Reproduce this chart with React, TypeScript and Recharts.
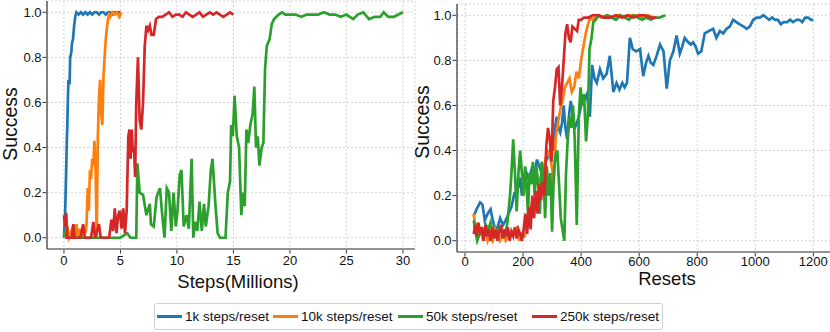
import { LineChart, Line, XAxis, YAxis, CartesianGrid } from "recharts";

const BLUE = "#1f77b4";
const ORANGE = "#ff7f0e";
const GREEN = "#2ca02c";
const RED = "#d62728";

const seriesNames = ["1k steps/reset", "10k steps/reset", "50k steps/reset", "250k steps/reset"];
const seriesColors = [BLUE, ORANGE, GREEN, RED];

// left panel: success vs steps (millions)
const steps1k: [number, number][] = [
  [0, 0.0], [0.1, 0.1], [0.2, 0.3], [0.25, 0.42], [0.3, 0.5], [0.35, 0.62], [0.4, 0.7], [0.5, 0.68],
  [0.55, 0.8], [0.65, 0.82], [0.7, 0.86], [0.8, 0.88], [0.9, 0.94], [1.0, 0.98], [1.1, 1.0], [1.3, 0.99],
  [1.5, 1.0], [1.7, 0.99], [1.9, 1.0], [2.1, 0.99], [2.3, 1.0], [2.5, 0.99], [2.7, 1.0], [2.9, 1.0],
  [3.1, 0.99], [3.3, 1.0], [3.5, 1.0], [3.7, 0.99], [3.9, 1.0], [4.1, 1.0], [4.3, 0.99], [4.5, 1.0],
  [4.7, 1.0], [4.9, 1.0], [5.0, 1.0],
];
const steps10k: [number, number][] = [
  [0, 0.03], [0.15, 0.0], [0.3, 0.05], [0.45, 0.0], [0.6, 0.02], [0.8, 0.05], [0.95, 0.0], [1.1, 0.06],
  [1.25, 0.0], [1.4, 0.04], [1.6, 0.0], [1.75, 0.05], [1.9, 0.02], [2.0, 0.06], [2.1, 0.22], [2.2, 0.12],
  [2.3, 0.3], [2.4, 0.26], [2.5, 0.35], [2.6, 0.32], [2.7, 0.43], [2.8, 0.3], [2.9, 0.0], [3.0, 0.45],
  [3.1, 0.62], [3.2, 0.7], [3.3, 0.55], [3.4, 0.5], [3.5, 0.72], [3.6, 0.8], [3.7, 0.88], [3.8, 0.93],
  [3.9, 0.97], [4.0, 0.99], [4.1, 0.98], [4.3, 1.0], [4.5, 0.99], [4.7, 1.0], [4.9, 0.98], [5.1, 1.0],
];
const steps50k: [number, number][] = [
  [0, 0.03], [0.2, 0.0], [0.5, 0.0], [1, 0.0], [1.5, 0.0], [2, 0.0], [2.5, 0.0], [3, 0.0], [3.5, 0.0],
  [4, 0.0], [4.5, 0.0], [5, 0.0], [5.3, 0.01], [5.6, 0.02], [5.9, 0.0], [6.2, 0.0], [6.4, 0.0],
  [6.5, 0.33], [6.7, 0.2], [7.0, 0.19], [7.3, 0.1], [7.6, 0.15], [7.7, 0.06], [7.95, 0.05], [8.2, 0.18],
  [8.5, 0.22], [8.7, 0.1], [8.9, 0.0], [9.1, 0.22], [9.3, 0.2], [9.5, 0.03], [9.7, 0.2], [9.9, 0.05],
  [10.05, 0.12], [10.25, 0.28], [10.4, 0.3], [10.6, 0.05], [10.85, 0.1], [11.05, 0.04], [11.3, 0.35],
  [11.45, 0.0], [11.6, 0.07], [11.8, 0.03], [12.0, 0.16], [12.2, 0.03], [12.4, 0.15], [12.55, 0.05],
  [12.8, 0.14], [13.0, 0.3], [13.15, 0.35], [13.4, 0.15], [13.6, 0.02], [13.8, 0.0], [14.3, 0.0],
  [14.5, 0.2], [14.7, 0.25], [14.8, 0.5], [14.95, 0.45], [15.1, 0.63], [15.3, 0.45], [15.5, 0.4],
  [15.7, 0.1], [15.85, 0.2], [16.0, 0.14], [16.15, 0.48], [16.3, 0.42], [16.5, 0.5], [16.7, 0.55],
  [16.85, 0.67], [17.0, 0.4], [17.15, 0.45], [17.3, 0.32], [17.5, 0.4], [17.65, 0.42], [17.8, 0.75],
  [17.95, 0.85], [18.2, 0.88], [18.4, 0.95], [18.6, 0.97], [18.8, 0.98], [19.0, 0.99], [19.3, 1.0],
  [19.6, 0.99], [20.0, 0.99], [20.5, 0.99], [21.0, 0.98], [21.5, 0.99], [22.0, 0.99], [22.5, 0.99],
  [23.0, 1.0], [23.5, 0.99], [24.0, 0.99], [24.5, 0.98], [25.0, 0.99], [25.6, 0.97], [26.0, 0.99],
  [26.5, 1.0], [27.0, 0.97], [27.5, 0.98], [28.0, 0.98], [28.3, 1.0], [28.7, 0.98], [29.2, 0.98],
  [29.6, 0.99], [30.0, 1.0],
];
const steps250k: [number, number][] = [
  [0, 0.1], [0.1, 0.05], [0.2, 0.11], [0.3, 0.0], [0.5, 0.0], [0.7, 0.0], [0.83, 0.06], [0.95, 0.0],
  [1.2, 0.0], [1.45, 0.0], [1.7, 0.06], [1.85, 0.0], [2.1, 0.0], [2.4, 0.0], [2.6, 0.07], [2.75, 0.0],
  [3.1, 0.06], [3.25, 0.0], [3.6, 0.0], [4.0, 0.0], [4.2, 0.08], [4.35, 0.03], [4.5, 0.13], [4.65, 0.02],
  [4.8, 0.1], [4.95, 0.12], [5.1, 0.04], [5.25, 0.13], [5.4, 0.02], [5.55, 0.12], [5.7, 0.45],
  [5.8, 0.48], [5.9, 0.35], [6.0, 0.48], [6.1, 0.38], [6.2, 0.4], [6.3, 0.27], [6.4, 0.6], [6.55, 0.8],
  [6.7, 0.52], [6.85, 0.48], [7.0, 0.6], [7.15, 0.85], [7.3, 0.94], [7.45, 0.92], [7.6, 0.94],
  [7.75, 0.9], [7.95, 0.9], [8.15, 0.97], [8.4, 0.98], [8.7, 0.98], [9.0, 0.99], [9.3, 1.0], [9.6, 0.98],
  [9.9, 0.99], [10.2, 0.99], [10.5, 0.98], [10.8, 1.0], [11.1, 0.99], [11.4, 0.98], [11.7, 0.99],
  [12.0, 1.0], [12.3, 0.98], [12.6, 0.99], [12.9, 1.0], [13.2, 0.99], [13.5, 1.0], [13.8, 0.99],
  [14.1, 0.98], [14.4, 0.99], [14.7, 1.0], [15.0, 0.99],
];

// right panel: success vs resets
const resets1k: [number, number][] = [
  [30, 0.11], [40, 0.14], [52, 0.17], [60, 0.16], [68, 0.09], [78, 0.12], [88, 0.14], [96, 0.09],
  [104, 0.05], [112, 0.06], [121, 0.1], [131, 0.07], [140, 0.09], [150, 0.12], [160, 0.15], [170, 0.21],
  [180, 0.22], [190, 0.28], [196, 0.2], [204, 0.25], [212, 0.3], [220, 0.27], [230, 0.32], [240, 0.3],
  [248, 0.36], [256, 0.33], [264, 0.3], [272, 0.33], [281, 0.36], [290, 0.38], [298, 0.42], [304, 0.4],
  [310, 0.5], [316, 0.55], [322, 0.5], [328, 0.48], [334, 0.52], [340, 0.6], [346, 0.5], [352, 0.45],
  [358, 0.55], [364, 0.62], [370, 0.58], [378, 0.5], [385, 0.52], [392, 0.55], [400, 0.6], [410, 0.62],
  [420, 0.65], [430, 0.55], [438, 0.78], [446, 0.72], [454, 0.7], [465, 0.76], [476, 0.72], [488, 0.74],
  [499, 0.82], [511, 0.66], [522, 0.7], [532, 0.67], [542, 0.7], [550, 0.68], [558, 0.7], [568, 0.9],
  [578, 0.85], [590, 0.84], [603, 0.85], [614, 0.73], [624, 0.79], [632, 0.82], [640, 0.79], [649, 0.78],
  [660, 0.82], [672, 0.87], [684, 0.84], [695, 0.675], [706, 0.8], [718, 0.84], [729, 0.91], [740, 0.83],
  [748, 0.86], [757, 0.9], [769, 0.88], [778, 0.87], [786, 0.88], [795, 0.86], [803, 0.83], [814, 0.84],
  [826, 0.92], [840, 0.93], [855, 0.94], [866, 0.9], [878, 0.93], [890, 0.92], [901, 0.94], [912, 0.95],
  [924, 0.98], [935, 0.97], [947, 0.96], [960, 0.95], [970, 0.94], [981, 0.95], [993, 0.98], [1005, 0.99],
  [1016, 0.99], [1028, 1.0], [1038, 0.99], [1048, 0.98], [1058, 0.99], [1068, 0.98], [1078, 0.98],
  [1088, 0.96], [1098, 0.97], [1110, 0.97], [1120, 0.98], [1130, 0.97], [1142, 0.98], [1152, 0.98],
  [1162, 0.97], [1172, 0.99], [1182, 0.99], [1192, 0.98], [1200, 0.98],
];
const resets10k: [number, number][] = [
  [30, 0.12], [36, 0.05], [42, 0.08], [48, 0.02], [55, 0.06], [62, 0.0], [70, 0.05], [78, 0.0],
  [86, 0.03], [95, 0.0], [104, 0.05], [112, 0.02], [120, 0.0], [130, 0.04], [140, 0.0], [150, 0.02],
  [160, 0.03], [170, 0.05], [180, 0.06], [188, 0.0], [196, 0.03], [205, 0.02], [212, 0.05], [220, 0.1],
  [228, 0.15], [236, 0.12], [244, 0.2], [252, 0.18], [260, 0.28], [268, 0.3], [276, 0.35], [284, 0.4],
  [292, 0.38], [300, 0.32], [306, 0.25], [312, 0.45], [320, 0.52], [328, 0.58], [336, 0.62], [344, 0.68],
  [352, 0.7], [360, 0.72], [368, 0.66], [376, 0.68], [384, 0.75], [392, 0.72], [400, 0.8], [408, 0.86],
  [416, 0.92], [424, 0.96], [432, 0.99], [442, 0.98], [452, 1.0], [470, 0.99], [490, 1.0], [510, 0.99],
  [530, 1.0], [550, 0.99], [570, 1.0], [590, 1.0], [610, 0.99], [630, 1.0], [650, 0.99],
];
const resets50k: [number, number][] = [
  [30, 0.09], [36, 0.04], [42, 0.0], [50, 0.03], [58, 0.05], [66, 0.02], [72, 0.07], [80, 0.05],
  [88, 0.08], [96, 0.03], [104, 0.02], [112, 0.05], [121, 0.06], [130, 0.03], [138, 0.02], [146, 0.08],
  [155, 0.2], [160, 0.3], [166, 0.45], [172, 0.3], [178, 0.13], [184, 0.3], [190, 0.4], [196, 0.3],
  [202, 0.2], [207, 0.33], [212, 0.25], [217, 0.12], [222, 0.3], [228, 0.25], [234, 0.35], [240, 0.2],
  [246, 0.33], [252, 0.25], [258, 0.12], [264, 0.35], [270, 0.3], [276, 0.1], [282, 0.33], [288, 0.2],
  [294, 0.3], [300, 0.04], [306, 0.3], [312, 0.38], [318, 0.4], [324, 0.25], [330, 0.1], [336, 0.05],
  [342, 0.0], [348, 0.3], [354, 0.45], [360, 0.55], [366, 0.5], [372, 0.6], [378, 0.45], [385, 0.07],
  [392, 0.55], [398, 0.68], [404, 0.6], [410, 0.65], [417, 0.44], [423, 0.55], [429, 0.85], [436, 0.9],
  [442, 0.97], [450, 0.98], [460, 1.0], [475, 0.99], [490, 1.0], [505, 0.99], [520, 0.98], [535, 1.0],
  [550, 0.99], [565, 0.98], [580, 1.0], [595, 0.99], [610, 0.98], [625, 0.99], [640, 0.98], [655, 0.99],
  [670, 0.99], [690, 1.0],
];
const resets250k: [number, number][] = [
  [30, 0.03], [35, 0.07], [40, 0.02], [46, 0.08], [52, 0.04], [58, 0.06], [64, 0.0], [70, 0.07],
  [76, 0.02], [82, 0.05], [88, 0.0], [94, 0.06], [100, 0.01], [106, 0.05], [112, 0.0], [118, 0.04],
  [124, 0.07], [130, 0.01], [136, 0.05], [142, 0.02], [148, 0.06], [154, 0.0], [160, 0.04], [166, 0.02],
  [172, 0.06], [178, 0.01], [184, 0.05], [190, 0.03], [196, 0.0], [202, 0.05], [208, 0.12], [214, 0.03],
  [220, 0.15], [226, 0.05], [232, 0.2], [238, 0.1], [244, 0.22], [250, 0.12], [256, 0.25], [262, 0.18],
  [268, 0.26], [274, 0.2], [280, 0.42], [286, 0.5], [292, 0.45], [298, 0.35], [304, 0.62], [310, 0.68],
  [316, 0.76], [322, 0.77], [328, 0.6], [334, 0.68], [340, 0.8], [346, 0.92], [352, 0.96], [358, 0.9],
  [364, 0.88], [370, 0.95], [378, 0.94], [386, 0.93], [392, 0.98], [400, 0.98], [410, 0.99], [425, 0.99],
  [440, 1.0], [460, 1.0], [480, 0.99], [500, 0.99], [520, 1.0], [540, 0.99], [560, 1.0], [580, 0.99],
  [600, 1.0], [620, 1.0], [640, 0.99], [660, 0.99],
];

const stepsTicks = [0, 5, 10, 15, 20, 25, 30];
const stepsMinorTicks = [-1, 1, 2, 3, 4, 6, 7, 8, 9, 11, 12, 13, 14, 16, 17, 18, 19, 21, 22, 23, 24, 26, 27, 28, 29, 31];
const resetsTicks = [0, 200, 400, 600, 800, 1000, 1200];
const resetsMinorTicks = [50, 100, 150, 250, 300, 350, 450, 500, 550, 650, 700, 750, 850, 900, 950, 1050, 1100, 1150, 1250];
const successTicks = [0, 0.2, 0.4, 0.6, 0.8, 1.0];
const successMinorTicks = [0.05, 0.1, 0.15, 0.25, 0.3, 0.35, 0.45, 0.5, 0.55, 0.65, 0.7, 0.75, 0.85, 0.9, 0.95];

const toPts = (arr: [number, number][]) => arr.map(([x, y]) => ({ x, y }));

const leftSeries = [steps1k, steps10k, steps50k, steps250k].map(toPts);
const rightSeries = [resets1k, resets10k, resets50k, resets250k].map(toPts);

const FONT = "'Liberation Sans', Arial, sans-serif";
const AXIS = "#333";
const TICK_TEXT = { fontSize: 13, fill: "#111" };
const MAJOR = "major";

function Panel({
  series,
  xDomain,
  xTicks,
  xMinor,
  width,
  height,
  margin,
  xHeight,
  xTickMargin,
}: {
  series: { x: number; y: number }[][];
  xDomain: [number, number];
  xTicks: number[];
  xMinor: number[];
  width: number;
  height: number;
  margin: { top: number; right: number; bottom: number; left: number };
  xHeight: number;
  xTickMargin: number;
}) {
  return (
    <LineChart width={width} height={height} margin={margin}>
      <CartesianGrid xAxisId={MAJOR} yAxisId={MAJOR} stroke="#c8c8c8" strokeDasharray="2 2" strokeWidth={0.8} />
      {/* minor-tick axes keep the default id so they sit flush against the plot */}
      <XAxis
        type="number"
        dataKey="x"
        domain={xDomain}
        ticks={xMinor}
        allowDataOverflow
        height={1}
        tick={false}
        tickSize={2}
        tickLine={{ stroke: AXIS }}
        axisLine={{ stroke: AXIS, strokeWidth: 1.2 }}
      />
      <XAxis
        xAxisId={MAJOR}
        type="number"
        dataKey="x"
        domain={xDomain}
        ticks={xTicks}
        allowDataOverflow
        height={xHeight}
        tickSize={3.5}
        tickMargin={xTickMargin}
        tick={TICK_TEXT}
        tickLine={{ stroke: AXIS }}
        axisLine={false}
      />
      <YAxis
        type="number"
        domain={[-0.05, 1.05]}
        ticks={successMinorTicks}
        allowDataOverflow
        width={1}
        tick={false}
        tickSize={2}
        tickLine={{ stroke: AXIS }}
        axisLine={{ stroke: AXIS, strokeWidth: 1.2 }}
      />
      <YAxis
        yAxisId={MAJOR}
        type="number"
        domain={[-0.05, 1.05]}
        ticks={successTicks}
        allowDataOverflow
        width={46}
        tickSize={3.5}
        tickMargin={1}
        tick={TICK_TEXT}
        tickFormatter={(v: number) => v.toFixed(1)}
        tickLine={{ stroke: AXIS }}
        axisLine={false}
      />
      {series.map((pts, i) => (
        <Line
          key={seriesNames[i]}
          xAxisId={MAJOR}
          yAxisId={MAJOR}
          data={pts}
          dataKey="y"
          type="linear"
          stroke={seriesColors[i]}
          strokeWidth={2.7}
          dot={false}
          isAnimationActive={false}
        />
      ))}
    </LineChart>
  );
}

const labelStyle = {
  position: "absolute" as const,
  fontSize: 18.5,
  color: "#111",
  textAlign: "center" as const,
  lineHeight: "18px",
  width: 200,
  whiteSpace: "nowrap" as const,
};

// legend item positions
const legendLineX = [157, 273, 398, 532];

export default function App() {
  return (
    <div
      style={{
        position: "absolute",
        left: 0,
        top: 0,
        width: 830,
        height: 332,
        background: "#fff",
        fontFamily: FONT,
        overflow: "hidden",
      }}
    >
      <div style={{ position: "absolute", left: 0, top: 0 }}>
        <Panel
          series={leftSeries}
          xDomain={[-1.5, 31.07]}
          xTicks={stepsTicks}
          xMinor={stepsMinorTicks}
          width={420}
          height={275}
          margin={{ top: 1, right: 5, bottom: 0, left: 0 }}
          xHeight={25}
          xTickMargin={2}
        />
      </div>
      <div style={{ position: "absolute", left: 410, top: 0 }}>
        <Panel
          series={rightSeries}
          xDomain={[-27.6, 1257.5]}
          xTicks={resetsTicks}
          xMinor={resetsMinorTicks}
          width={420}
          height={280}
          margin={{ top: 4, right: 0, bottom: 0, left: 0 }}
          xHeight={27}
          xTickMargin={0}
        />
      </div>

      <div style={{ ...labelStyle, fontSize: 19.5, left: 10 - 100, top: 124 - 9, transform: "rotate(-90deg)" }}>Success</div>
      <div style={{ ...labelStyle, fontSize: 19.5, left: 422 - 100, top: 122 - 9, transform: "rotate(-90deg)" }}>Success</div>
      <div style={{ ...labelStyle, left: 238 - 100, top: 283 - 10 }}>Steps(Millions)</div>
      <div style={{ ...labelStyle, lineHeight: "16px", left: 667 - 100, top: 271 }}>Resets</div>

      <div
        style={{
          position: "absolute",
          left: 154,
          top: 303,
          width: 509,
          height: 27,
          border: "1px solid #d0d0d0",
          borderRadius: 3,
          boxSizing: "border-box",
        }}
      />
      {seriesNames.map((name, i) => (
        <div
          key={name}
          style={{
            position: "absolute",
            left: legendLineX[i],
            top: 308,
            height: 17,
            display: "flex",
            alignItems: "center",
            fontSize: 13.5,
            color: "#111",
            whiteSpace: "nowrap",
          }}
        >
          <div style={{ width: 25, height: 2.5, background: seriesColors[i], marginRight: 3 }} />
          {name}
        </div>
      ))}
    </div>
  );
}
